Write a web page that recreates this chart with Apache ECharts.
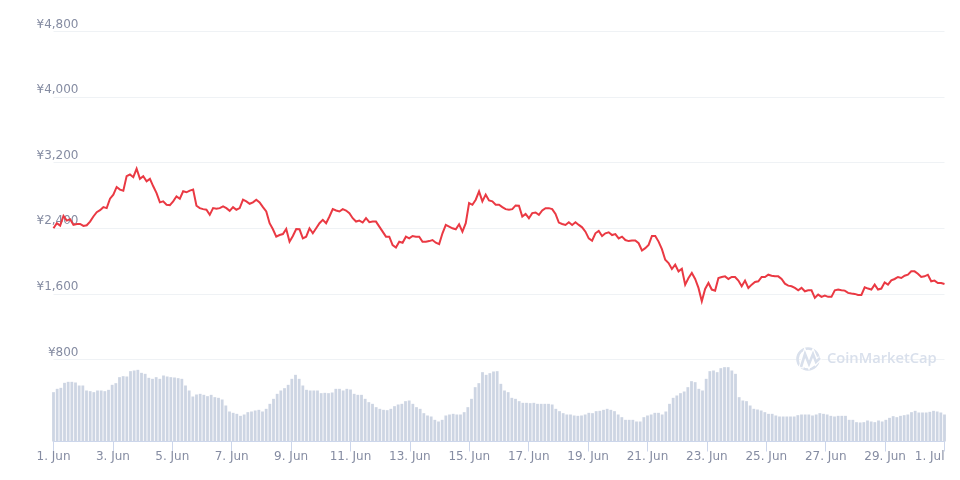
<!DOCTYPE html>
<html><head><meta charset="utf-8">
<style>html,body{margin:0;padding:0;background:#fff}#c{width:960px;height:480px}</style>
<script src="https://cdn.jsdelivr.net/npm/echarts@6/dist/echarts.min.js"></script>
</head><body><div id="c"></div>
<script>
const dayTickLabels = ['1. Jun','3. Jun','5. Jun','7. Jun','9. Jun','11. Jun','13. Jun','15. Jun','17. Jun','19. Jun','21. Jun','23. Jun','25. Jun','27. Jun','29. Jun','1. Jul'];
const totalDays = 30;
const priceValues = [
2400,2462,2433,2552,2494,2511,2441,2453,2453,2429,2437,2482,2544,2597,2621,2658,2646,2761,2810,2904,2872,2859,3036,3056,3023,3126,3003,3036,2974,3003,2912,2830,2716,2728,2687,2683,2728,2790,2761,2851,2839,2859,2872,2675,2646,2634,2626,2564,2646,2638,2646,2667,2646,2613,2658,2626,2646,2749,2728,2699,2716,2749,2716,2658,2605,2462,2388,2298,2318,2330,2392,2236,2306,2392,2388,2277,2298,2400,2339,2400,
2462,2503,2462,2544,2634,2617,2605,2634,2617,2585,2523,2482,2494,2470,2523,2474,2482,2482,2421,2359,2298,2298,2195,2166,2236,2224,2298,2277,2306,2298,2298,2236,2236,2244,2257,2224,2207,2339,2441,2421,2400,2388,2449,2359,2462,2708,2687,2749,2851,2728,2810,2740,2728,2687,2687,2658,2634,2626,2634,2679,2675,2544,2576,2523,2585,2593,2564,2617,2646,2646,2634,2576,2470,2453,2441,2474,2441,2474,2441,2412,2359,2277,2248,2339,2367,2306,2339,2351,2318,2330,2277,2298,2257,2244,2252,2252,
2218,2129,2158,2198,2307,2307,2238,2145,2016,1976,1903,1956,1875,1907,1713,1794,1855,1782,1673,1511,1661,1733,1653,1640,1794,1806,1814,1782,1806,1806,1762,1693,1762,1673,1713,1745,1754,1806,1806,1834,1822,1814,1814,1782,1725,1701,1693,1673,1644,1673,1632,1644,1644,1552,1592,1564,1580,1564,1564,1644,1653,1644,1640,1612,1604,1600,1588,1588,1681,1665,1653,1713,1653,1665,1741,1713,1766,1782,1806,1794,1822,1834,1875,1875,1846,1806,1814,1834,1754,1762,1733,1733,1721];
const volumeValues = [
148,158,161,176,179,179,177,168,168,153,151,148,153,153,151,155,170,175,193,196,195,211,213,215,206,203,191,188,193,188,198,195,193,192,190,188,168,153,135,141,143,140,136,140,133,131,126,108,90,86,83,77,81,88,90,93,95,90,98,113,128,143,153,160,170,188,200,188,168,155,153,153,153,
145,146,145,147,158,158,153,158,156,143,140,140,128,118,113,103,98,95,94,98,106,111,113,121,123,113,103,98,85,78,75,65,60,65,78,81,83,81,81,88,103,128,163,175,208,200,205,210,211,173,153,148,131,128,121,116,116,115,116,113,113,113,113,111,98,91,85,81,81,78,77,78,81,86,85,91,92,95,98,95,91,81,73,65,65,65,60,
60,73,78,81,86,86,81,90,113,131,138,145,150,163,181,178,158,153,188,211,213,208,220,223,223,213,203,133,123,121,108,98,96,93,88,83,83,78,75,75,75,75,75,79,81,81,81,78,81,85,83,81,77,75,77,77,77,65,65,58,57,58,63,60,58,63,60,65,71,76,73,77,79,81,88,92,87,87,87,89,92,90,87,81];
const textColor = '#858ca2';
const gridColor = '#eff2f5';
const tickColor = '#ccd6eb';
const barColor = '#cdd5e3';
const wm = '#d9e0ec';
const chart = echarts.init(document.getElementById('c'), null, {renderer:'canvas'});
const font = 'DejaVu Sans';
chart.setOption({
  animation:false,
  backgroundColor:'#fff',
  textStyle:{fontFamily:font},
  grid:[
    {left:53.5,width:891,top:31.5,height:328},
    {left:53.5,width:891,top:359.5,height:82}
  ],
  xAxis:[
    {gridIndex:0,type:'value',min:0,max:totalDays,show:false},
    {gridIndex:1,type:'value',min:0,max:totalDays,interval:2,z:6,
      splitLine:{show:false},
      axisLine:{show:true,lineStyle:{color:tickColor,width:1}},
      axisTick:{show:true,length:10,lineStyle:{color:tickColor}},
      axisLabel:{color:textColor,fontSize:12,fontFamily:font,margin:9,alignMaxLabel:'right',
        formatter:v=>dayTickLabels[v/2]}}
  ],
  yAxis:[
    {gridIndex:0,type:'value',min:800,max:4800,interval:800,
      axisLine:{show:false},axisTick:{show:false},
      splitLine:{show:true,lineStyle:{color:gridColor,width:1}},
      axisLabel:{color:textColor,fontSize:12,fontFamily:font,align:'right',verticalAlign:'bottom',margin:-25,padding:[0,0,1,0],
        formatter:v=>'¥'+v.toLocaleString('en-US')}},
    {gridIndex:1,type:'value',min:0,max:246,show:false,splitLine:{show:false}}
  ],
  series:[
    {type:'bar',xAxisIndex:1,yAxisIndex:1,barWidth:2.8,itemStyle:{color:barColor},silent:true,
      data:volumeValues.map((v,i)=>[i*totalDays/(volumeValues.length-1),v])},
    {type:'line',xAxisIndex:0,yAxisIndex:0,showSymbol:false,smooth:false,z:5,
      lineStyle:{color:'#ea3943',width:2,join:'miter',miterLimit:4},
      data:priceValues.map((v,i)=>[i*totalDays/(priceValues.length-1),v])}
  ],
  graphic:[
    {type:'circle',shape:{cx:808,cy:359,r:10.5},style:{fill:'none',stroke:wm,lineWidth:2.6},z:10},
    {type:'polyline',shape:{points:[[801,368],[805,354],[809,364],[813,354],[816,362],[820,358]]},style:{fill:'none',stroke:'#fff',lineWidth:5},z:11},
    {type:'polyline',shape:{points:[[801,367],[805,354],[809,364],[813,354],[816,362],[820,358]]},style:{fill:'none',stroke:wm,lineWidth:2.6},z:12},
    {type:'text',left:827,top:351,z:10,style:{text:'CoinMarketCap',fill:wm,font:'600 14.7px "Open Sans"'}}
  ]
});
</script></body></html>
